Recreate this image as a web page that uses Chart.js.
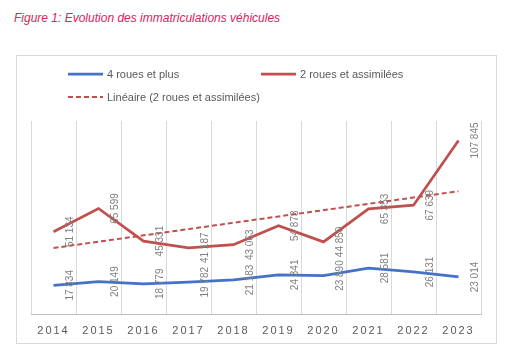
<!DOCTYPE html>
<html lang="fr">
<head>
<meta charset="utf-8">
<script src="https://cdn.jsdelivr.net/npm/chart.js@4/dist/chart.umd.min.js"></script>
<style>
  html, body { margin: 0; padding: 0; background: #ffffff; }
  #page { position: relative; width: 510px; height: 358px; overflow: hidden; }
  #title {
    position: absolute; left: 14px; top: 11px;
    font: italic 12px "Liberation Sans", Arial, sans-serif;
    color: #d6245c;
  }
  #frame {
    position: absolute; left: 16px; top: 55px; width: 479px; height: 287px;
    border: 1.5px solid #d9d9d9;
  }
  #chart-box { position: absolute; left: 0; top: 0; width: 510px; height: 358px; }
</style>
</head>
<body>
<div id="page">
  <div id="title">Figure 1: Evolution des immatriculations véhicules</div>
  <div id="frame"></div>
  <div id="chart-box"><canvas id="chart"></canvas></div>
</div>
<script>
// years on the x axis
const years = ['2014', '2015', '2016', '2017', '2018', '2019', '2020', '2021', '2022', '2023']

// registrations per year
const fourWheels = [17834, 20149, 18779, 19782, 21183, 24341, 23890, 28581, 26131, 23014]
const twoWheels = [51134, 65599, 45331, 41187, 43063, 54873, 44850, 65353, 67639, 107845]

// Excel linear trendline of the 2-wheel series, read at its two ends
const twoWheelsTrend = [41026, null, null, null, null, null, null, null, null, 76349]

const BLUE = '#4472c4'
const RED = '#c0504d'
const LABEL_GREY = '#808080'
const AXIS_GREY = '#595959'
const GRID = '#d9d9d9'
const FONT = '"Liberation Sans", Arial, sans-serif'

/** @param {number} value */
function formatThousands(value) {
  return String(value).replace(/\B(?=(\d{3})+(?!\d))/g, ' ')
}

// vertical value labels to the right of each point (Excel "right" position, text rotated 270°)
const rotatedValueLabels = {
  id: 'rotatedValueLabels',
  afterDatasetsDraw(chart) {
    const { ctx } = chart
    ctx.save()
    ctx.font = `10px ${FONT}`
    ctx.fillStyle = LABEL_GREY
    ctx.textAlign = 'center'
    ctx.textBaseline = 'middle'
    chart.data.datasets.forEach((ds, i) => {
      if (!ds.showValues) return
      chart.getDatasetMeta(i).data.forEach((pt, j) => {
        const value = ds.data[j]
        if (value == null) return
        ctx.save()
        ctx.translate(pt.x + 17, pt.y)
        ctx.rotate(-Math.PI / 2)
        ctx.fillText(formatThousands(value), 0, 0)
        ctx.restore()
      })
    })
    ctx.restore()
  },
}

// legend laid out in Excel's two columns
const columnLegend = {
  id: 'columnLegend',
  afterDraw(chart) {
    const { ctx } = chart
    const slots = [
      { x: 68, y: 74 },
      { x: 261, y: 74 },
      { x: 68, y: 97 },
    ]
    ctx.save()
    ctx.font = `11px ${FONT}`
    ctx.textBaseline = 'middle'
    ctx.textAlign = 'left'
    chart.data.datasets.forEach((ds, i) => {
      const slot = slots[i]
      ctx.strokeStyle = ds.borderColor
      ctx.lineWidth = ds.borderWidth
      ctx.setLineDash(ds.borderDash || [])
      ctx.beginPath()
      ctx.moveTo(slot.x, slot.y)
      ctx.lineTo(slot.x + 35, slot.y)
      ctx.stroke()
      ctx.fillStyle = AXIS_GREY
      ctx.fillText(ds.label, slot.x + 39, slot.y + 0.5)
    })
    ctx.restore()
  },
}

// spaced-out year labels: canvas letter spacing only while the scales draw
const spacedTicks = {
  id: 'spacedTicks',
  beforeDraw(chart) {
    chart.ctx.letterSpacing = '2px'
  },
  beforeDatasetsDraw(chart) {
    chart.ctx.letterSpacing = '0px'
  },
}

new Chart(document.getElementById('chart'), {
  type: 'line',
  data: {
    labels: years,
    datasets: [
      {
        label: '4 roues et plus',
        data: fourWheels,
        borderColor: BLUE,
        borderWidth: 2.75,
        pointRadius: 0,
        tension: 0,
        showValues: true,
      },
      {
        label: '2 roues et assimilées',
        data: twoWheels,
        borderColor: RED,
        borderWidth: 2.75,
        pointRadius: 0,
        tension: 0,
        showValues: true,
      },
      {
        label: 'Linéaire (2 roues et assimilées)',
        data: twoWheelsTrend,
        borderColor: RED,
        borderWidth: 2,
        borderDash: [5, 3],
        pointRadius: 0,
        spanGaps: true,
        showValues: false,
      },
    ],
  },
  options: {
    animation: false,
    responsive: true,
    maintainAspectRatio: false,
    layout: { padding: { left: 31, right: 29, top: 121, bottom: 20 } },
    scales: {
      x: {
        offset: true,
        grid: { display: true, offset: true, color: GRID, lineWidth: 1, drawTicks: false },
        border: { display: true, color: '#bfbfbf', width: 1 },
        ticks: { color: AXIS_GREY, font: { family: FONT, size: 11 }, padding: 10, maxRotation: 0 },
        afterFit: (scale) => { scale.height = 24 },
      },
      y: {
        display: false,
        min: 0,
        max: 120000,
      },
    },
    plugins: {
      legend: { display: false },
      tooltip: { enabled: false },
    },
  },
  plugins: [spacedTicks, rotatedValueLabels, columnLegend],
})
</script>
</body>
</html>
